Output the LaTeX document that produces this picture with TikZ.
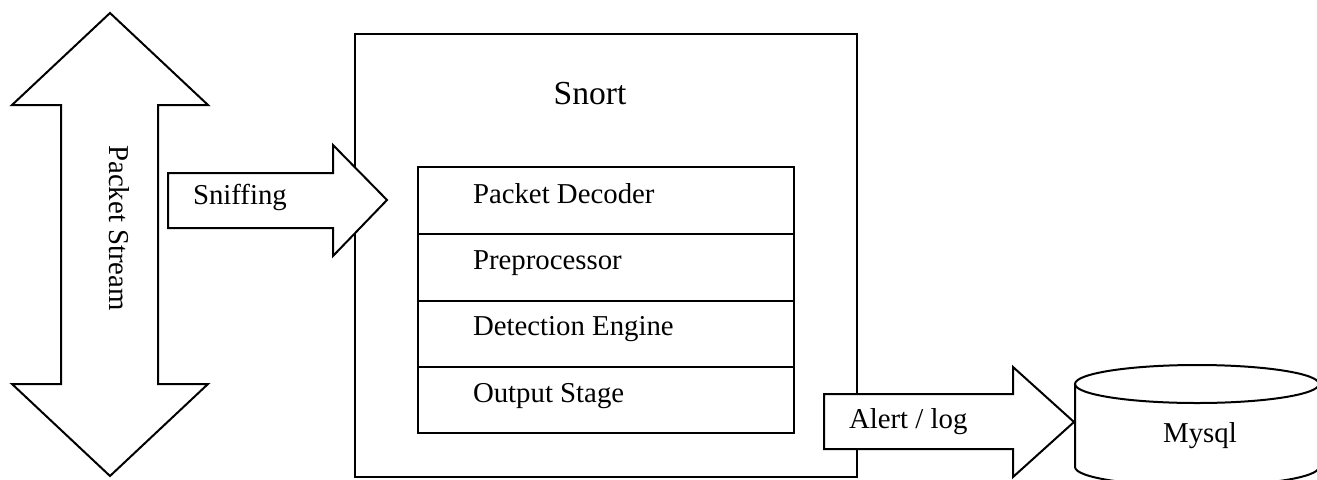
\documentclass[tikz,border=0pt]{standalone}
\usepackage{fontspec}
\setmainfont{Liberation Serif}[Ligatures=CommonOff]
\tikzset{every picture/.style={line width=1.5pt}}
\tikzset{lbl/.style={font=\fontsize{21.6}{26}\selectfont, inner sep=0pt}}

\begin{document}
\begin{tikzpicture}[x=0.75pt,y=0.75pt,yscale=-1,xscale=1]
\useasboundingbox (0,0) rectangle (1317,479);

%Shape: Rectangle [id:snortbox] 
\draw   (355,34) -- (857,34) -- (857,477) -- (355,477) -- cycle ;
%Shape: Rectangle [id:stages] 
\draw   (418,167) -- (794,167) -- (794,433) -- (418,433) -- cycle ;
\draw   (418,234) -- (794,234) ;
\draw   (418,301) -- (794,301) ;
\draw   (418,367) -- (794,367) ;
%Shape: Up Down Arrow [id:stream] 
\draw  [fill=white] (110,13) -- (208,105) -- (158,105) -- (158,384) -- (208,384) -- (110,476) -- (12,384) -- (61,384) -- (61,105) -- (12,105) -- cycle ;
%Shape: Right Arrow [id:sniff] 
\draw  [fill=white] (168,173) -- (333,173) -- (333,145) -- (387,200) -- (333,256) -- (333,228) -- (168,228) -- cycle ;
%Shape: Right Arrow [id:alert] 
\draw  [fill=white] (824,394) -- (1013,394) -- (1013,367) -- (1074,422) -- (1013,477) -- (1013,449) -- (824,449) -- cycle ;
%Shape: Can [id:db] 
\draw   (1075,384) -- (1075,467) arc [start angle=180, end angle=0, x radius=122, y radius=19] -- (1319,384) ;
\draw   (1197,384) ellipse [x radius=122, y radius=19] ;

% Text Node
\draw (119,228) node [lbl, rotate=-90] (pstream) {Packet Stream};
% Text Node
\draw (192,204) node [lbl, anchor=base west] (sniffing) {Sniffing};
% Text Node
\draw (590,104) node [lbl, anchor=base, font=\fontsize{25.2}{30}\selectfont] (snort) {Snort};
% Text Node
\draw (472,203) node [lbl, anchor=base west] (decoder) {Packet Decoder};
% Text Node
\draw (472,269) node [lbl, anchor=base west] (preproc) {Preprocessor};
% Text Node
\draw (472,335) node [lbl, anchor=base west] (detect) {Detection Engine};
% Text Node
\draw (472,402) node [lbl, anchor=base west] (output) {Output Stage};
% Text Node
\draw (848,428) node [lbl, anchor=base west] (alertlog) {Alert / log};
% Text Node
\draw (1200,442) node [lbl, anchor=base] (mysql) {Mysql};

\end{tikzpicture}
\end{document}
